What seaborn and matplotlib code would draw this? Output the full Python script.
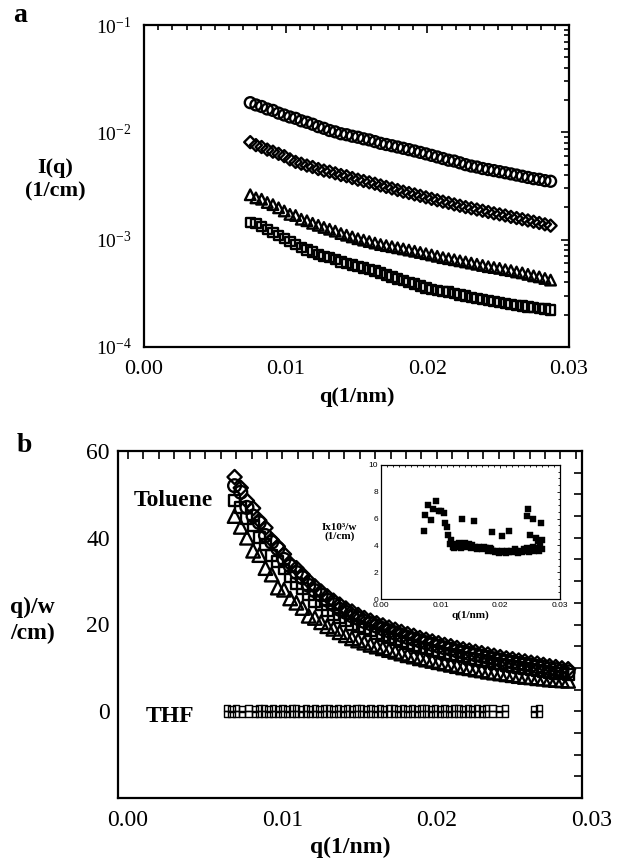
import numpy as np
import seaborn as sns
import matplotlib.pyplot as plt
import matplotlib.transforms as mtransforms
from matplotlib.ticker import MultipleLocator, LogLocator, NullFormatter, FixedLocator

# ---------------- data: panel a, I(q) in units of 1e-3 1/cm ----------------
q_a = [0.0075, 0.0079, 0.0083, 0.0087, 0.0091, 0.0095, 0.0099, 0.0103, 0.0107, 0.0111,
       0.0115, 0.0119, 0.0123, 0.0127, 0.0131, 0.0135, 0.0139, 0.0143, 0.0147, 0.0151,
       0.0155, 0.0159, 0.0163, 0.0167, 0.0171, 0.0175, 0.0179, 0.0183, 0.0187, 0.0191,
       0.0195, 0.0199, 0.0203, 0.0207, 0.0211, 0.0215, 0.0219, 0.0223, 0.0227, 0.0231,
       0.0235, 0.0239, 0.0243, 0.0247, 0.0251, 0.0255, 0.0259, 0.0263, 0.0267, 0.0271,
       0.0275, 0.0279, 0.0283, 0.0287]

i_circle = [18.9, 18.0, 17.4, 16.5, 16.0, 15.1, 14.5, 13.9, 13.5, 12.8,
            12.4, 11.9, 11.3, 10.9, 10.4, 10.1, 9.7, 9.5, 9.2, 9.0,
            8.7, 8.5, 8.2, 7.9, 7.7, 7.5, 7.3, 7.1, 6.9, 6.7,
            6.5, 6.3, 6.1, 5.9, 5.7, 5.5, 5.4, 5.2, 5.0, 4.85,
            4.75, 4.6, 4.5, 4.4, 4.3, 4.2, 4.1, 4.0, 3.9, 3.8,
            3.7, 3.65, 3.55, 3.5]
i_diamond = [8.1, 7.6, 7.3, 6.9, 6.6, 6.3, 6.0, 5.6, 5.3, 5.1,
             4.9, 4.75, 4.55, 4.4, 4.3, 4.15, 4.0, 3.9, 3.75, 3.62,
             3.52, 3.42, 3.32, 3.2, 3.1, 3.0, 2.9, 2.8, 2.72, 2.64,
             2.56, 2.48, 2.4, 2.33, 2.26, 2.2, 2.13, 2.07, 2.01, 1.96,
             1.91, 1.86, 1.81, 1.76, 1.72, 1.68, 1.63, 1.59, 1.55, 1.51,
             1.47, 1.43, 1.39, 1.35]
i_triangle = [2.62, 2.45, 2.38, 2.22, 2.12, 1.98, 1.85, 1.72, 1.68, 1.55,
              1.5, 1.42, 1.36, 1.3, 1.25, 1.2, 1.14, 1.1, 1.06, 1.02,
              0.99, 0.96, 0.93, 0.9, 0.88, 0.86, 0.84, 0.82, 0.8, 0.78,
              0.76, 0.74, 0.72, 0.70, 0.68, 0.665, 0.65, 0.635, 0.62, 0.605,
              0.59, 0.575, 0.56, 0.55, 0.54, 0.525, 0.515, 0.50, 0.49, 0.475,
              0.46, 0.45, 0.435, 0.42]
i_square = [1.45, 1.42, 1.33, 1.25, 1.16, 1.1, 1.02, 0.96, 0.9, 0.85,
            0.8, 0.77, 0.73, 0.7, 0.68, 0.65, 0.62, 0.6, 0.58, 0.56,
            0.545, 0.53, 0.51, 0.49, 0.47, 0.45, 0.43, 0.415, 0.40, 0.385,
            0.37, 0.355, 0.345, 0.335, 0.33, 0.325, 0.315, 0.305, 0.298, 0.29,
            0.283, 0.276, 0.27, 0.265, 0.26, 0.255, 0.25, 0.245, 0.24, 0.236,
            0.232, 0.228, 0.225, 0.222]

# ---------------- data: panel b, I(q)/w (1/cm) ----------------
q_b = [0.0069, 0.0073, 0.0077, 0.0081, 0.0085, 0.0089, 0.0093, 0.0097, 0.0101, 0.0105,
       0.0109, 0.0113, 0.0117, 0.0121, 0.0125, 0.0129, 0.0133, 0.0137, 0.0141, 0.0145,
       0.0149, 0.0153, 0.0157, 0.0161, 0.0165, 0.0169, 0.0173, 0.0177, 0.0181, 0.0185,
       0.0189, 0.0193, 0.0197, 0.0201, 0.0205, 0.0209, 0.0213, 0.0217, 0.0221, 0.0225,
       0.0229, 0.0233, 0.0237, 0.0241, 0.0245, 0.0249, 0.0253, 0.0257, 0.0261, 0.0265,
       0.0269, 0.0273, 0.0277, 0.0281, 0.0285]

tol_diamond = [54.0, 51.5, 48.5, 46.8, 44.0, 42.3, 39.5, 38.0, 36.2, 34.0,
               33.0, 31.5, 30.0, 28.8, 27.6, 26.5, 25.5, 24.6, 23.7, 23.0,
               22.2, 21.5, 20.9, 20.3, 19.8, 19.3, 18.8, 18.3, 17.8, 17.4,
               16.9, 16.5, 16.1, 15.7, 15.3, 15.0, 14.6, 14.3, 14.0, 13.7,
               13.4, 13.1, 12.8, 12.5, 12.2, 12.0, 11.7, 11.5, 11.2, 11.0,
               10.7, 10.4, 10.2, 9.9, 9.7]
tol_circle = [52.0, 50.5, 47.0, 45.0, 43.5, 40.5, 39.0, 37.5, 35.0, 33.5,
              32.0, 30.8, 29.0, 27.8, 26.8, 25.6, 24.6, 23.5, 22.8, 22.0,
              21.4, 20.7, 20.2, 19.6, 19.0, 18.5, 18.0, 17.5, 17.0, 16.6,
              16.2, 15.8, 15.4, 15.0, 14.6, 14.3, 13.9, 13.6, 13.3, 13.0,
              12.7, 12.4, 12.1, 11.8, 11.5, 11.3, 11.0, 10.8, 10.6, 10.3,
              10.1, 9.8, 9.6, 9.3, 9.1]
tol_square = [48.5, 47.0, 44.5, 42.8, 40.0, 38.5, 36.0, 34.5, 32.8, 31.0,
              29.5, 28.3, 26.8, 25.4, 24.5, 23.3, 22.4, 21.5, 20.8, 20.1,
              19.6, 19.0, 18.5, 18.0, 17.5, 17.0, 16.5, 16.1, 15.6, 15.2,
              14.8, 14.5, 14.1, 13.8, 13.4, 13.1, 12.8, 12.5, 12.2, 11.9,
              11.6, 11.4, 11.1, 10.9, 10.6, 10.4, 10.1, 9.9, 9.7, 9.4,
              9.2, 9.0, 8.8, 8.6, 8.4]
tol_triangle = [45.0, 42.5, 40.0, 37.0, 36.0, 33.0, 31.5, 28.5, 28.0, 26.0,
                25.0, 23.8, 22.0, 21.5, 20.5, 19.6, 19.0, 18.2, 17.5, 16.8,
                16.3, 15.8, 15.3, 14.9, 14.5, 14.1, 13.7, 13.3, 12.9, 12.6,
                12.2, 11.9, 11.6, 11.3, 11.0, 10.7, 10.4, 10.1, 9.9, 9.6,
                9.4, 9.1, 8.9, 8.7, 8.5, 8.3, 8.1, 7.9, 7.8, 7.6,
                7.5, 7.3, 7.2, 7.1, 7.0]

# THF: two overlapping rows of squares close to zero
q_thf = [0.0064, 0.0067, 0.0070, 0.0074, 0.0078, 0.0082, 0.0085, 0.0088, 0.0091, 0.0094,
         0.0097, 0.0100, 0.0103, 0.0106, 0.0109, 0.0112, 0.0115, 0.0118, 0.0121, 0.0124,
         0.0127, 0.0130, 0.0133, 0.0136, 0.0139, 0.0142, 0.0145, 0.0148, 0.0151, 0.0154,
         0.0157, 0.0160, 0.0163, 0.0166, 0.0169, 0.0172, 0.0175, 0.0178, 0.0181, 0.0184,
         0.0187, 0.0190, 0.0193, 0.0196, 0.0199, 0.0202, 0.0205, 0.0208, 0.0211, 0.0214,
         0.0217, 0.0220, 0.0223, 0.0226, 0.0229, 0.0232, 0.0236, 0.0240, 0.0244, 0.0263,
         0.0266]
thf_upper = [0.7, 0.6, 0.7, 0.6, 0.7, 0.6, 0.7, 0.7, 0.6, 0.7,
             0.6, 0.7, 0.6, 0.7, 0.7, 0.6, 0.7, 0.6, 0.7, 0.6,
             0.7, 0.7, 0.6, 0.7, 0.6, 0.7, 0.6, 0.7, 0.7, 0.6,
             0.7, 0.6, 0.7, 0.6, 0.7, 0.7, 0.6, 0.7, 0.6, 0.7,
             0.6, 0.7, 0.7, 0.6, 0.7, 0.6, 0.7, 0.6, 0.7, 0.7,
             0.6, 0.7, 0.6, 0.7, 0.6, 0.7, 0.7, 0.6, 0.7, 0.6,
             0.7]
thf_lower = [-0.6, -0.7, -0.6, -0.7, -0.6, -0.7, -0.6, -0.6, -0.7, -0.6,
             -0.7, -0.6, -0.7, -0.6, -0.6, -0.7, -0.6, -0.7, -0.6, -0.7,
             -0.6, -0.6, -0.7, -0.6, -0.7, -0.6, -0.7, -0.6, -0.6, -0.7,
             -0.6, -0.7, -0.6, -0.7, -0.6, -0.6, -0.7, -0.6, -0.7, -0.6,
             -0.7, -0.6, -0.6, -0.7, -0.6, -0.7, -0.6, -0.7, -0.6, -0.6,
             -0.7, -0.6, -0.7, -0.6, -0.7, -0.6, -0.6, -0.7, -0.6, -0.7,
             -0.6]

# inset: I x 10^3 / w
q_ins = [0.0072, 0.0074, 0.0079, 0.0084, 0.0087, 0.0093, 0.0097, 0.0101, 0.0106, 0.0107,
         0.0110, 0.0113, 0.0116, 0.0118, 0.0120, 0.0123, 0.0126, 0.0128, 0.0131, 0.0136,
         0.0134, 0.0138, 0.0141, 0.0144, 0.0147, 0.0150, 0.0156, 0.0153, 0.0158, 0.0161,
         0.0164, 0.0167, 0.0170, 0.0173, 0.0176, 0.0179, 0.0182, 0.0186, 0.0185, 0.0188,
         0.0191, 0.0194, 0.0197, 0.0200, 0.0202, 0.0203, 0.0206, 0.0209, 0.0212, 0.0215,
         0.0215, 0.0218, 0.0221, 0.0224, 0.0227, 0.0230, 0.0233, 0.0236, 0.0239, 0.0242,
         0.0245, 0.0246, 0.0245, 0.0248, 0.0250, 0.0251, 0.0254, 0.0255, 0.0257, 0.0260,
         0.0260, 0.0263, 0.0265, 0.0266, 0.0268, 0.0269, 0.0270]
i_ins = [5.1, 6.3, 7.0, 5.9, 6.7, 7.3, 6.6, 6.6, 6.4, 5.7,
         5.4, 4.8, 4.1, 4.4, 3.9, 3.8, 4.1, 3.9, 4.2, 6.0,
         3.8, 4.0, 4.2, 3.9, 4.1, 3.8, 5.8, 4.0, 3.9, 3.7,
         3.9, 3.8, 3.7, 3.9, 3.8, 3.6, 3.8, 5.0, 3.7, 3.6,
         3.5, 3.6, 3.4, 3.5, 4.7, 3.6, 3.5, 3.4, 3.6, 5.05,
         3.5, 3.6, 3.5, 3.7, 3.6, 3.4, 3.6, 3.5, 3.7, 3.6,
         6.2, 6.7, 3.8, 3.5, 4.8, 3.7, 3.9, 6.0, 3.6, 4.55,
         3.8, 4.3, 3.6, 4.0, 5.7, 3.7, 4.4]

x_ticklabels = ['0.00', '0.01', '0.02', '0.03']

# ---------------- style ----------------
sns.set_style('white', {'axes.edgecolor': 'black', 'text.color': 'black',
                        'axes.labelcolor': 'black', 'xtick.color': 'black',
                        'ytick.color': 'black'})
plt.rcParams['font.family'] = ['Liberation Serif', 'DejaVu Serif']
plt.rcParams['mathtext.fontset'] = 'custom'
plt.rcParams['mathtext.rm'] = 'Liberation Serif'
plt.rcParams['mathtext.it'] = 'Liberation Serif:italic'
plt.rcParams['mathtext.bf'] = 'Liberation Serif:bold'

W, H = 617, 861
fig = plt.figure(figsize=(W / 100, H / 100), dpi=100)


def px_axes(left, right, top, bottom):
    return fig.add_axes([left / W, 1 - bottom / H, (right - left) / W, (bottom - top) / H])


def style_ticks(ax, size, major=6, minor=3.5, width=1.2, pad=8):
    ax.tick_params(which='both', direction='in', top=True, right=True, width=width,
                   labelsize=size, pad=pad)
    ax.tick_params(which='major', length=major)
    ax.tick_params(which='minor', length=minor)
    for s in ax.spines.values():
        s.set_linewidth(1.6)


def open_points(ax, x, y, marker, s, lw=1.7):
    sns.scatterplot(x=x, y=y, marker=marker, s=s, facecolor='none', edgecolor='black',
                    linewidth=lw, ax=ax, legend=False)


# ---------------- panel a ----------------
ax_a = px_axes(144, 569, 25, 347)
ax_a.set_yscale('log')
open_points(ax_a, q_a, np.array(i_circle) * 1e-3, 'o', 62)
open_points(ax_a, q_a, np.array(i_diamond) * 1e-3, 'D', 38)
open_points(ax_a, q_a, np.array(i_triangle) * 1e-3, '^', 58)
open_points(ax_a, q_a, np.array(i_square) * 1e-3, 's', 46)
ax_a.set_xlim(0, 0.03)
ax_a.set_ylim(1e-4, 1e-1)
ax_a.xaxis.set_major_locator(FixedLocator([0.0, 0.01, 0.02, 0.03]))
ax_a.xaxis.set_minor_locator(MultipleLocator(0.001))
ax_a.set_xticklabels(x_ticklabels)
ax_a.yaxis.set_major_locator(LogLocator(base=10, numticks=10))
ax_a.yaxis.set_minor_locator(LogLocator(base=10, subs=np.arange(2, 10), numticks=10))
ax_a.yaxis.set_minor_formatter(NullFormatter())
style_ticks(ax_a, 16, pad=9)
ax_a.tick_params(axis='y', labelsize=14)
ax_a.set_xlabel('q(1/nm)', fontsize=16, fontweight='bold', labelpad=6)
ax_a.set_ylabel('I(q)\n(1/cm)', fontsize=16, fontweight='bold', rotation=0,
                ha='center', va='center')
ax_a.yaxis.set_label_coords(-0.209, 0.52)
fig.text(20 / W, 1 - 15 / H, 'a', fontsize=20, fontweight='bold', ha='center', va='center')

# ---------------- panel b ----------------
ax_b = px_axes(118, 582, 451, 798)
open_points(ax_b, q_b, tol_circle, 'o', 85)
open_points(ax_b, q_b, tol_square, 's', 62)
open_points(ax_b, q_b, tol_diamond, 'D', 52)
open_points(ax_b, q_b, tol_triangle, '^', 95)
open_points(ax_b, q_thf, thf_upper, 's', 20, lw=1.0)
open_points(ax_b, q_thf, thf_lower, 's', 20, lw=1.0)
ax_b.set_xlim(-0.00065, 0.0294)
ax_b.set_ylim(-20, 60)
ax_b.xaxis.set_major_locator(FixedLocator([0.0, 0.01, 0.02]))
ax_b.xaxis.set_minor_locator(MultipleLocator(0.001))
ax_b.set_xticklabels(x_ticklabels[:3])
ax_b.yaxis.set_major_locator(FixedLocator([0, 20, 40, 60]))
ax_b.yaxis.set_minor_locator(MultipleLocator(5))
style_ticks(ax_b, 17, major=6, minor=6, pad=9)
ax_b.tick_params(axis='y', pad=6)
# the last tick label sits just past the right spine in the original scan
lbl_tr = mtransforms.blended_transform_factory(ax_b.transData, ax_b.transAxes)
ax_b.text(0.03, -22 / 347, x_ticklabels[3], transform=lbl_tr, fontsize=17,
          ha='center', va='center', clip_on=False)
ax_b.set_xlabel('q(1/nm)', fontsize=17, fontweight='bold', labelpad=4)
fig.text(10 / W, 1 - 620 / H, 'q)/w\n/cm)', fontsize=17, fontweight='bold',
         ha='left', va='center', linespacing=1.3)
fig.text(173 / W, 1 - 500 / H, 'Toluene', fontsize=17, fontweight='bold',
         ha='center', va='center')
fig.text(170 / W, 1 - 717 / H, 'THF', fontsize=17, fontweight='bold',
         ha='center', va='center')
fig.text(24 / W, 1 - 445 / H, 'b', fontsize=20, fontweight='bold', ha='center', va='center')

# ---------------- inset ----------------
ax_i = px_axes(381, 560, 465, 599)
ax_i.set_facecolor('white')
sns.scatterplot(x=q_ins, y=i_ins, marker='s', s=14, color='black', edgecolor='black',
                linewidth=0.3, ax=ax_i, legend=False)
ax_i.set_xlim(0, 0.03)
ax_i.set_ylim(0, 10)
ax_i.xaxis.set_major_locator(FixedLocator([0.0, 0.01, 0.02, 0.03]))
ax_i.xaxis.set_minor_locator(MultipleLocator(0.001))
ax_i.set_xticklabels(x_ticklabels, family='Liberation Sans')
ax_i.set_yticks([0, 2, 4, 6, 8, 10])
ax_i.yaxis.set_minor_locator(MultipleLocator(0.5))
ax_i.set_yticklabels(['0', '2', '4', '6', '8', '10'], family='Liberation Sans')
style_ticks(ax_i, 6, major=2.5, minor=1.3, width=0.6, pad=2)
for s in ax_i.spines.values():
    s.set_linewidth(0.9)
ax_i.set_xlabel('q(1/nm)', fontsize=8, fontweight='bold', labelpad=1)
ax_i.set_ylabel('Ix10³/w\n(1/cm)', fontsize=8, fontweight='bold', rotation=0,
                ha='center', va='center', linespacing=1.0)
ax_i.yaxis.set_label_coords(-0.23, 0.5)

fig.savefig('out.png', dpi=100)
